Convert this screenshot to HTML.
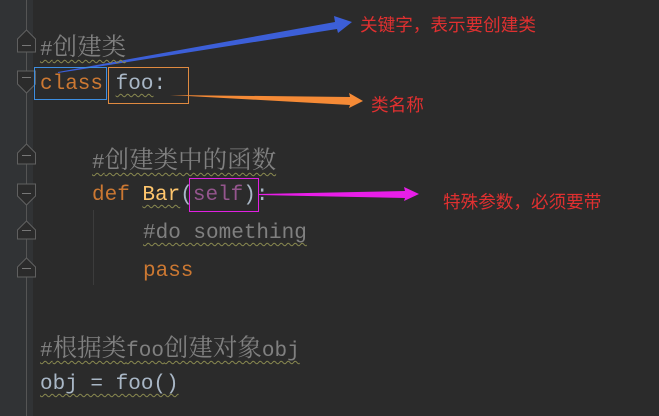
<!DOCTYPE html>
<html><head><meta charset="utf-8"><style>
body{margin:0;width:659px;height:416px;background:#2b2b2b;overflow:hidden;position:relative}
.g{position:absolute;left:0;top:0;width:33px;height:416px;background:#313335}
.t{position:absolute;font-family:"Liberation Mono","Noto Serif CJK SC",monospace;font-size:21px;line-height:24px;white-space:pre}
.z{font-family:"Noto Serif CJK SC","Noto Sans CJK SC",serif;font-size:24.5px}
.c{color:#808080}
.k{color:#cc7832}
.d{color:#a9b7c6}
.u{text-decoration:underline wavy #8a8a50;text-underline-offset:4px;text-decoration-thickness:1px}
.a{position:absolute;font-family:"Liberation Sans","Noto Sans CJK SC",sans-serif;font-size:17.6px;color:#e03030;white-space:pre}
.box{position:absolute;border:1px solid}
</style></head><body>
<div class="g"></div>
<div style="position:absolute;left:26px;top:0;width:1px;height:416px;background:#555"></div>
<div style="position:absolute;left:93px;top:210px;width:1px;height:75px;background:#3c3c3c"></div>
<svg style="position:absolute;left:0;top:0" width="659" height="416">
<g fill="#2b2b2b" stroke="#606060" stroke-width="1">
<path d="M17.5,39 L26.5,30 L35.5,39 L35.5,52 L17.5,52Z"/>
<path d="M17.5,71 L35.5,71 L35.5,84 L26.5,93 L17.5,84Z"/>
<path d="M17.5,153 L26.5,144 L35.5,153 L35.5,164 L17.5,164Z"/>
<path d="M17.5,184 L35.5,184 L35.5,196 L26.5,205 L17.5,196Z"/>
<path d="M17.5,230 L26.5,221 L35.5,230 L35.5,239 L17.5,239Z"/>
<path d="M17.5,267 L26.5,258 L35.5,267 L35.5,277 L17.5,277Z"/>
</g>
<g stroke="#777" stroke-width="1">
<line x1="22" y1="45.5" x2="31" y2="45.5"/><line x1="22" y1="77.5" x2="31" y2="77.5"/>
<line x1="22" y1="155.5" x2="31" y2="155.5"/><line x1="22" y1="193.5" x2="31" y2="193.5"/>
<line x1="22" y1="230.5" x2="31" y2="230.5"/><line x1="22" y1="268.5" x2="31" y2="268.5"/>
</g>
<path d="M58,73 L337,29 L338,33 L352,22 L334,16 L335,22 L58,72Z" fill="#3c5fd8"/>
<path d="M170,95 L350,97 L349,93 L363,101 L349,108 L350,105Z" fill="#f58a36"/>
<path d="M258,194 L405,191 L404,187 L419,194 L404,201 L405,198 L258,195Z" fill="#e81ee8"/>
</svg>
<div class="t c" style="left:40px;top:34px"><span class="u">#<span class="z">创建类</span></span></div>
<div class="t" style="left:40px;top:73px"><span class="k">class</span> <span class="d u">foo</span><span class="d">:</span></div>
<div class="t c" style="left:92px;top:147px"><span class="u">#<span class="z">创建类中的函数</span></span></div>
<div class="t" style="left:92px;top:184px"><span class="k">def</span> <span style="color:#ffc66d" class="u">Bar</span><span class="d">(</span><span style="color:#94558d">self</span><span class="d">):</span></div>
<div class="t c" style="left:143px;top:222px"><span class="u">#do something</span></div>
<div class="t k" style="left:143px;top:260px">pass</div>
<div class="t c" style="left:40px;top:335px"><span class="u">#<span class="z">根据类</span>foo<span class="z">创建对象</span>obj</span></div>
<div class="t d" style="left:40px;top:373px"><span class="u">obj = foo()</span></div>
<div class="box" style="left:34px;top:67px;width:71px;height:31px;border-color:#3d8ee0"></div>
<div class="box" style="left:108px;top:67px;width:79px;height:35px;border-color:#e08a40"></div>
<div class="box" style="left:189px;top:178px;width:68px;height:32px;border-color:#e020e0"></div>
<div class="a" style="left:360px;top:12px">关键字，表示要创建类</div>
<div class="a" style="left:371px;top:92px">类名称</div>
<div class="a" style="left:443px;top:189px">特殊参数，必须要带</div>
</body></html>
